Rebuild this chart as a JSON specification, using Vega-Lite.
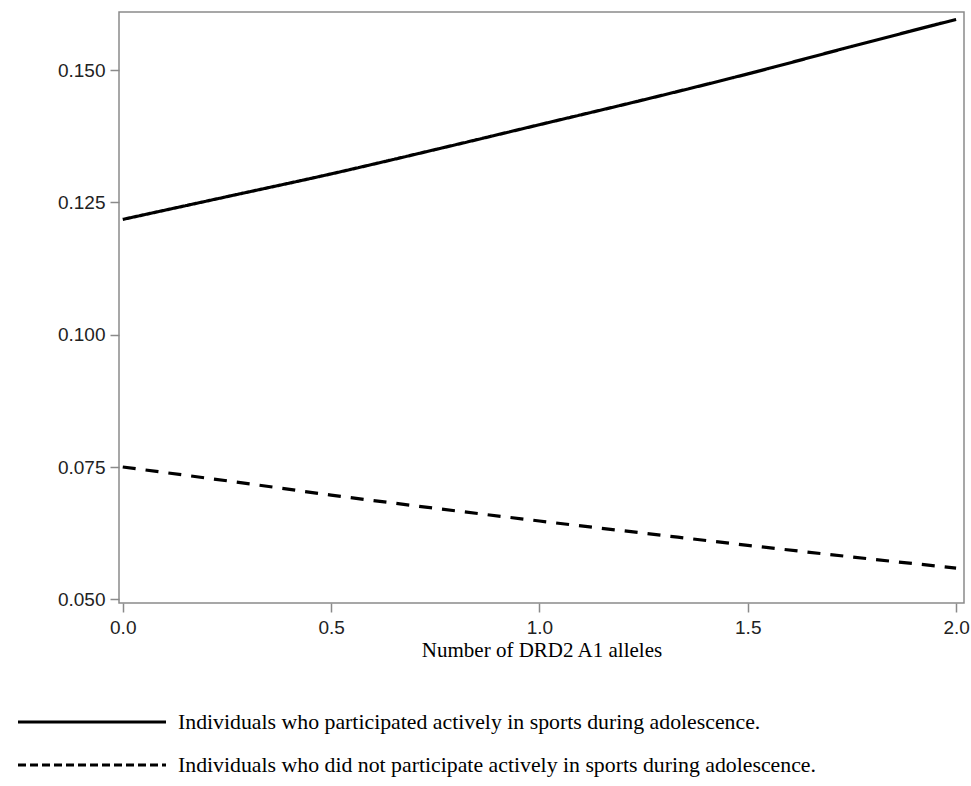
{
  "$schema": "https://vega.github.io/schema/vega-lite/v6.json",
  "width": 845,
  "height": 591,
  "autosize": {"type": "none"},
  "padding": {"left": 119, "top": 12, "right": 7, "bottom": 183},
  "background": "white",
  "config": {
    "view": {"stroke": "#8a8a8a", "strokeWidth": 1.5},
    "axis": {
      "domain": false,
      "grid": false,
      "tickColor": "#8a8a8a",
      "tickWidth": 1.5,
      "tickSize": 9,
      "labelFont": "Liberation Sans",
      "labelFontSize": 19,
      "labelColor": "#222222",
      "titleFont": "Liberation Serif",
      "titleFontSize": 21,
      "titleFontWeight": "normal",
      "titleColor": "black"
    }
  },
  "data": {
    "values": [
      {"x": 0.0, "p": 0.1218, "g": "A"},
      {"x": 0.25, "p": 0.1261, "g": "A"},
      {"x": 0.5, "p": 0.1304, "g": "A"},
      {"x": 0.75, "p": 0.1350, "g": "A"},
      {"x": 1.0, "p": 0.1397, "g": "A"},
      {"x": 1.25, "p": 0.1444, "g": "A"},
      {"x": 1.5, "p": 0.1493, "g": "A"},
      {"x": 1.75, "p": 0.1545, "g": "A"},
      {"x": 2.0, "p": 0.1596, "g": "A"},
      {"x": 0.0, "p": 0.0750, "g": "B"},
      {"x": 0.25, "p": 0.0724, "g": "B"},
      {"x": 0.5, "p": 0.0697, "g": "B"},
      {"x": 0.75, "p": 0.0672, "g": "B"},
      {"x": 1.0, "p": 0.0648, "g": "B"},
      {"x": 1.25, "p": 0.0625, "g": "B"},
      {"x": 1.5, "p": 0.0602, "g": "B"},
      {"x": 1.75, "p": 0.0580, "g": "B"},
      {"x": 2.0, "p": 0.0559, "g": "B"}
    ]
  },
  "encoding": {
    "x": {
      "field": "x", "type": "quantitative",
      "scale": {"domain": [-0.009, 2.019], "nice": false, "zero": false},
      "axis": {"values": [0, 0.5, 1, 1.5, 2], "format": ".1f", "title": "Number of DRD2 A1 alleles", "labelPadding": 6, "titlePadding": 2, "labelFlush": false}
    },
    "y": {
      "field": "p", "type": "quantitative",
      "scale": {"domain": [0.0493, 0.161], "nice": false, "zero": false},
      "axis": {"values": [0.05, 0.075, 0.1, 0.125, 0.15], "format": ".3f", "title": null, "labelPadding": 5}
    }
  },
  "layer": [
    {
      "mark": {"type": "line", "color": "black", "strokeWidth": 3.2, "interpolate": "monotone"},
      "encoding": {
        "detail": {"field": "g", "type": "nominal"},
        "strokeDash": {"condition": {"test": "datum.g === 'B'", "value": [13, 10]}, "value": [1, 0]}
      }
    },
    {
      "transform": [{"filter": "datum.g === 'none'"}],
      "mark": {"type": "line", "color": "black", "strokeWidth": 3.2},
      "encoding": {
        "strokeDash": {
          "field": "g", "type": "nominal",
          "scale": {"domain": ["A", "B"], "range": [[1, 0], [8, 4]]},
          "legend": {
            "orient": "none",
            "legendX": -103,
            "legendY": 700,
            "title": null,
            "padding": 0,
            "symbolType": "stroke",
            "symbolSize": 21904,
            "symbolStrokeWidth": 3.2,
            "symbolStrokeColor": "black",
            "clipHeight": 20,
            "rowPadding": 21,
            "labelOffset": 10,
            "labelFont": "Liberation Serif",
            "labelFontSize": 21.8,
            "labelColor": "black",
            "labelLimit": 900,
            "labelExpr": "datum.value === 'A' ? 'Individuals who participated actively in sports during adolescence.' : 'Individuals who did not participate actively in sports during adolescence.'"
          }
        }
      }
    }
  ]
}
